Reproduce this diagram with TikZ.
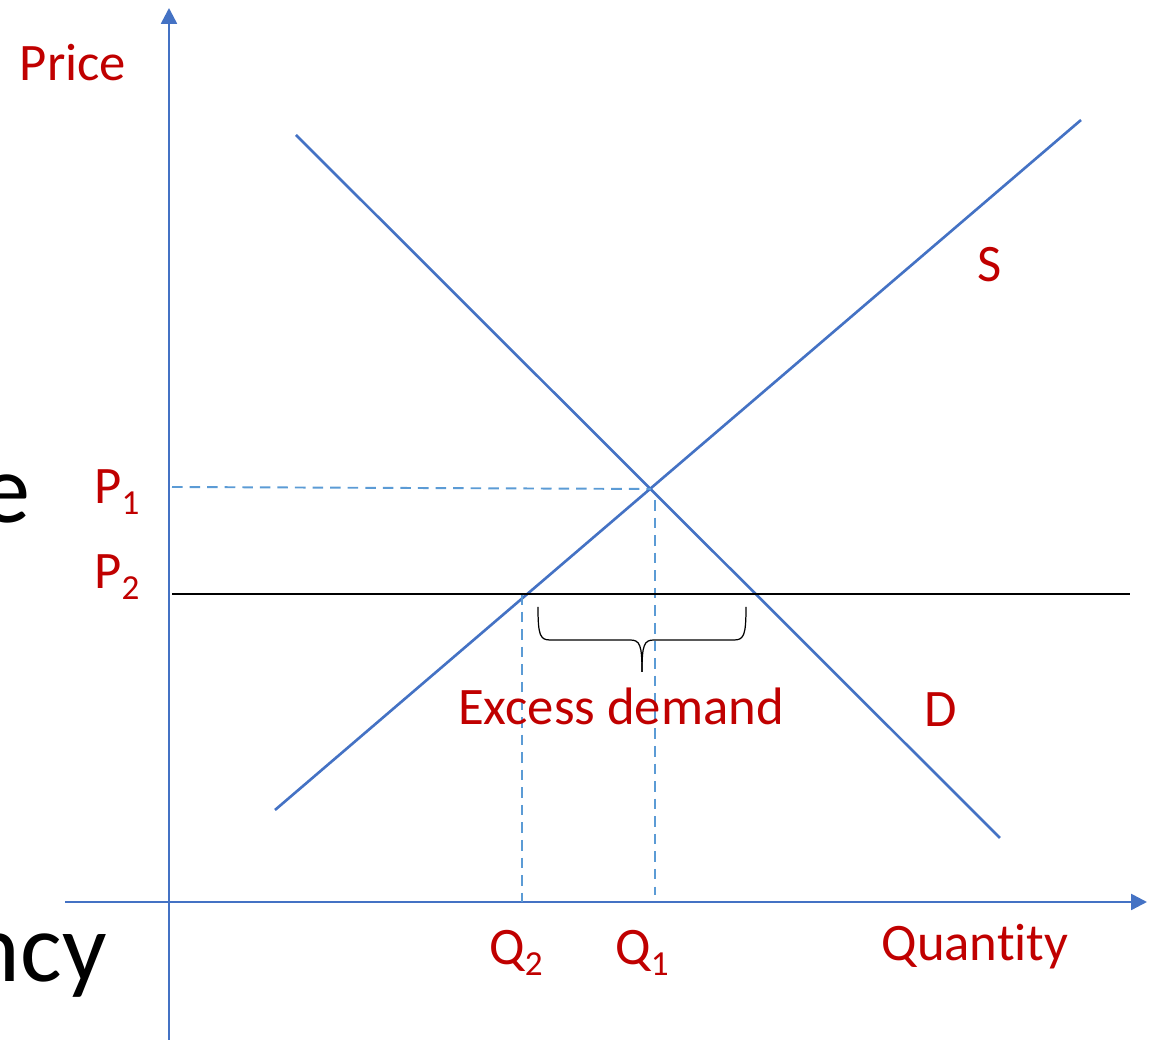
\documentclass[tikz,border=0pt]{standalone}
\usepackage{fontspec}
\setmainfont[Ligatures=NoCommon]{Carlito}
\usetikzlibrary{positioning,arrows.meta}
\definecolor{axisblue}{HTML}{4472C4}
\definecolor{dashblue}{HTML}{5B9BD5}
\definecolor{labelred}{HTML}{C00000}
\newcommand{\lowsub}[1]{\raisebox{-0.45ex}{\fontsize{20}{22}\selectfont #1}}
\tikzset{
  axisline/.style={axisblue, line width=1.4pt, -{Triangle[length=9pt, width=9pt]}},
  curveline/.style={axisblue, line width=1.5pt},
  guideline/.style={dashblue, line width=1.1pt, dash pattern=on 6pt off 4pt},
  floorline/.style={black, line width=1.3pt},
  bracket/.style={black, line width=0.7pt},
  lbl/.style={text=labelred, font=\fontsize{30}{34}\selectfont, inner sep=0pt},
  bigtxt/.style={text=black, font=\fontsize{56}{66}\selectfont, inner sep=0pt}
}

\begin{document}
\begin{tikzpicture}[x=0.02cm, y=0.02cm]
      \useasboundingbox (0,0) rectangle (1157,1040);
      % axes
      \coordinate (ybot) at (169,0);
      \coordinate (ytop) at (169,1032);
      \coordinate (xleft) at (65,138);
      \coordinate (xright) at (1147,138);
      \draw[axisline] (ybot) -- (ytop);
      \draw[axisline] (xleft) -- (xright);
      % supply and demand
      \coordinate (s0) at (275,230);
      \coordinate (s1) at (1081,920);
      \coordinate (d0) at (296,905);
      \coordinate (d1) at (1000,202);
      \draw[curveline] (s0) -- (s1);
      \draw[curveline] (d0) -- (d1);
      % equilibrium and price floor
      \coordinate (eq) at (651,551);
      \coordinate (p1) at (172,553);
      \coordinate (q1top) at (655,540);
      \coordinate (q1) at (655,145);
      \coordinate (q2top) at (522,446);
      \coordinate (q2) at (522,138);
      \coordinate (p2) at (172,446);
      \coordinate (p2end) at (1130,446);
      \draw[guideline] (p1) -- (eq);
      \draw[guideline] (q1top) -- (q1);
      \draw[guideline] (q2top) -- (q2);
      \draw[floorline] (p2) -- (p2end);
      % brace under the gap
      \draw[bracket] (538,433) .. controls (538,405) and (540,400) .. (550,400) -- (630,400)
        .. controls (640,400) and (642,395) .. (642,368);
      \draw[bracket] (746,433) .. controls (746,405) and (744,400) .. (734,400) -- (654,400)
        .. controls (644,400) and (642,395) .. (642,368);
      % labels
      \node[lbl] (price) at (73,977) {Price};
      \node[lbl] (slab) at (990,775) {S};
      \node[lbl] (dlab) at (941,330) {D};
      \node[lbl] (excess) at (621,334) {Excess demand};
      \node[lbl] (qty) at (975,93) {Quantity};
      \node[lbl] (q2lab) at (516,87) {Q\lowsub{2}};
      \node[lbl] (q1lab) at (642,87) {Q\lowsub{1}};
      \node[lbl] (p1lab) at (117,548) {P\lowsub{1}};
      \node[lbl] (p2lab) at (117,463) {P\lowsub{2}};
      \node[bigtxt, anchor=base east] (etxt) at (31,517) {e};
      \node[bigtxt, anchor=base east] (encytxt) at (107,58) {ency};
    \end{tikzpicture}
\end{document}
